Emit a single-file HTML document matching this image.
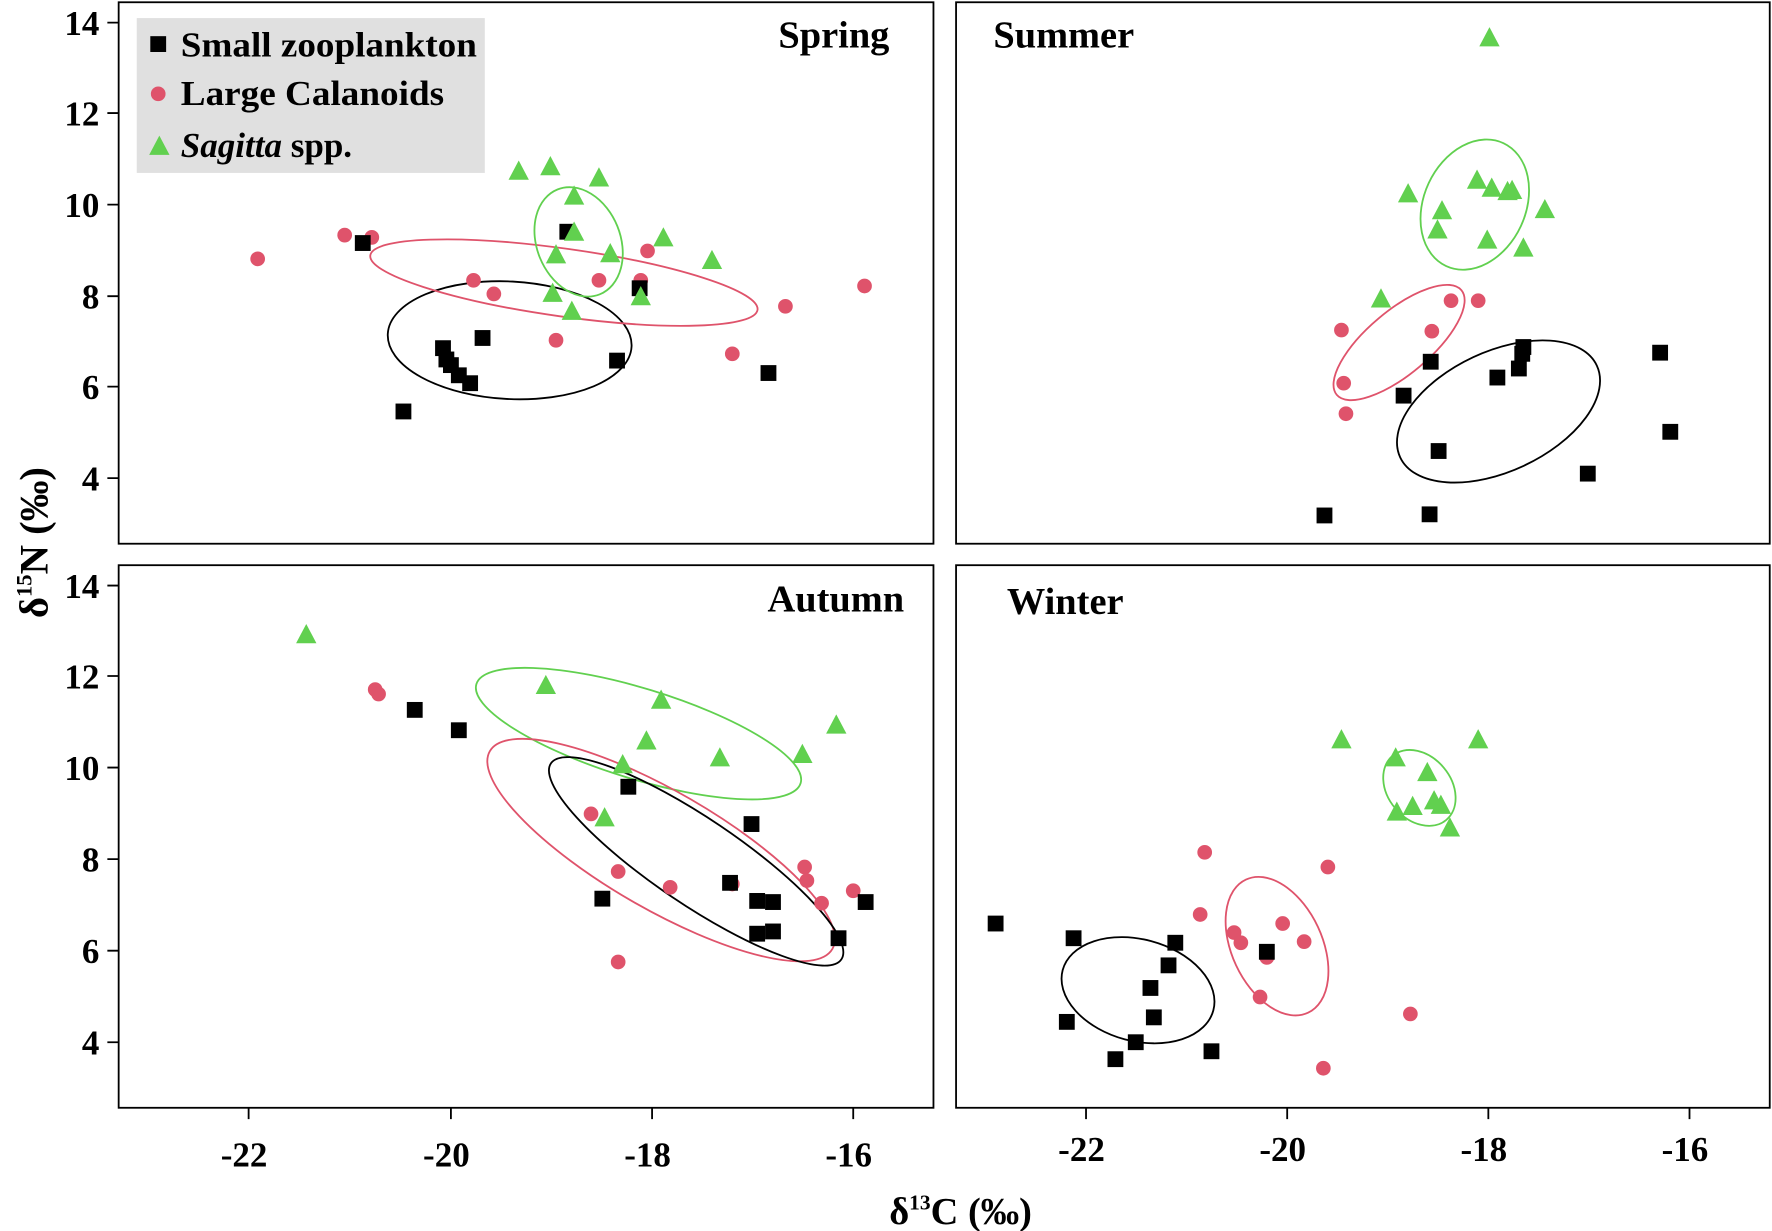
<!DOCTYPE html>
<html><head><meta charset="utf-8"><style>html,body{margin:0;padding:0;background:#fff}svg{display:block}</style></head><body>
<svg width="1772" height="1231" viewBox="0 0 1568 1089" preserveAspectRatio="none" xmlns="http://www.w3.org/2000/svg" font-family="Liberation Serif, serif" font-weight="bold">
<defs>
<rect id="s" x="-7" y="-7" width="14" height="14" fill="#000"/>
<circle id="c" r="6.5" fill="#DF536B"/>
<polygon id="t" points="0,-10 9,7 -9,7" fill="#61D04F"/>
</defs>
<g fill="none" stroke="#000" stroke-width="1.6">
<rect x="105" y="2" width="721" height="479"/>
<rect x="846" y="2" width="720" height="479"/>
<rect x="105" y="500" width="721" height="480"/>
<rect x="846" y="500" width="720" height="480"/>
<path d="M95,20H105M95,100H105M95,181H105M95,262H105M95,342H105M95,423H105"/>
<path d="M95,518H105M95,598H105M95,679H105M95,760H105M95,841H105M95,922H105"/>
<path d="M220,980V990M399,980V990M577,980V990M755,980V990"/>
<path d="M961,980V990M1139,980V990M1317,980V990M1495,980V990"/>
</g>
<g font-size="31" text-anchor="end">
<text x="88" y="31">14</text><text x="88" y="111">12</text><text x="88" y="192">10</text><text x="88" y="273">8</text><text x="88" y="353">6</text><text x="88" y="434">4</text>
<text x="88" y="529">14</text><text x="88" y="609">12</text><text x="88" y="690">10</text><text x="88" y="771">8</text><text x="88" y="852">6</text><text x="88" y="933">4</text>
</g>
<g font-size="31" text-anchor="middle">
<text x="216" y="1032">-22</text><text x="395" y="1032">-20</text><text x="573" y="1032">-18</text><text x="751" y="1032">-16</text>
<text x="957" y="1027">-22</text><text x="1135" y="1027">-20</text><text x="1313" y="1027">-18</text><text x="1491" y="1027">-16</text>
<text x="850" y="1083" font-size="34">δ<tspan font-size="19" dy="-13">13</tspan><tspan dy="13">C (‰)</tspan></text>
</g>
<text transform="translate(42,480) rotate(-90)" font-size="36" text-anchor="middle">δ<tspan font-size="20" dy="-14">15</tspan><tspan dy="14">N (‰)</tspan></text>
<g font-size="34">
<text x="787" y="42" text-anchor="end">Spring</text>
<text x="879" y="42">Summer</text>
<text x="800" y="541" text-anchor="end">Autumn</text>
<text x="891" y="543">Winter</text>
</g>
<rect x="121" y="16" width="308" height="137" fill="#e0e0e0"/>
<use href="#s" x="140" y="39"/><use href="#c" x="140" y="83"/><use href="#t" x="141" y="130"/>
<g font-size="31"><text x="160" y="50" textLength="262" lengthAdjust="spacingAndGlyphs">Small zooplankton</text><text x="160" y="93" textLength="233" lengthAdjust="spacingAndGlyphs">Large Calanoids</text><text x="160" y="139"><tspan font-style="italic">Sagitta</tspan> spp.</text></g>
<g fill="none" stroke-width="1.6">
<ellipse cx="451" cy="301" rx="108" ry="52" stroke="#000" transform="rotate(3 451 301)"/>
<ellipse cx="499" cy="250" rx="173" ry="30" stroke="#DF536B" transform="rotate(8 499 250)"/>
<ellipse cx="512" cy="214" rx="37" ry="50" stroke="#61D04F" transform="rotate(-22 512 214)"/>
<ellipse cx="1326" cy="364" rx="96" ry="53" stroke="#000" transform="rotate(-25 1326 364)"/>
<ellipse cx="1238" cy="303" rx="72" ry="28" stroke="#DF536B" transform="rotate(-40 1238 303)"/>
<ellipse cx="1305" cy="181" rx="45" ry="60" stroke="#61D04F" transform="rotate(25 1305 181)"/>
<ellipse cx="565" cy="649" rx="150" ry="40" stroke="#61D04F" transform="rotate(17 565 649)"/>
<ellipse cx="585" cy="752" rx="175" ry="52" stroke="#DF536B" transform="rotate(30 585 752)"/>
<ellipse cx="616" cy="762" rx="155" ry="38" stroke="#000" transform="rotate(34 616 762)"/>
<ellipse cx="1007" cy="876" rx="69" ry="45" stroke="#000" transform="rotate(15 1007 876)"/>
<ellipse cx="1130" cy="837" rx="40" ry="65" stroke="#DF536B" transform="rotate(-25 1130 837)"/>
<ellipse cx="1256" cy="697" rx="37" ry="28" stroke="#61D04F" transform="rotate(50 1256 697)"/>
</g>
<g>
<use href="#c" x="228" y="229"/><use href="#c" x="305" y="208"/><use href="#c" x="329" y="210"/><use href="#c" x="419" y="248"/><use href="#c" x="437" y="260"/><use href="#c" x="492" y="301"/><use href="#c" x="530" y="248"/><use href="#c" x="567" y="248"/><use href="#c" x="573" y="222"/><use href="#c" x="648" y="313"/><use href="#c" x="695" y="271"/><use href="#c" x="765" y="253"/>
<use href="#s" x="321" y="215"/><use href="#s" x="357" y="364"/><use href="#s" x="392" y="308"/><use href="#s" x="395" y="318"/><use href="#s" x="399" y="323"/><use href="#s" x="406" y="332"/><use href="#s" x="416" y="339"/><use href="#s" x="427" y="299"/><use href="#s" x="502" y="205"/><use href="#s" x="546" y="319"/><use href="#s" x="566" y="255"/><use href="#s" x="680" y="330"/>
<use href="#t" x="459" y="152"/><use href="#t" x="487" y="148"/><use href="#t" x="530" y="158"/><use href="#t" x="508" y="174"/><use href="#t" x="508" y="206"/><use href="#t" x="492" y="226"/><use href="#t" x="540" y="225"/><use href="#t" x="587" y="211"/><use href="#t" x="630" y="231"/><use href="#t" x="489" y="260"/><use href="#t" x="506" y="276"/><use href="#t" x="567" y="263"/>

<use href="#c" x="1187" y="292"/><use href="#c" x="1189" y="339"/><use href="#c" x="1191" y="366"/><use href="#c" x="1267" y="293"/><use href="#c" x="1284" y="266"/><use href="#c" x="1308" y="266"/>
<use href="#s" x="1172" y="456"/><use href="#s" x="1265" y="455"/><use href="#s" x="1273" y="399"/><use href="#s" x="1242" y="350"/><use href="#s" x="1266" y="320"/><use href="#s" x="1325" y="334"/><use href="#s" x="1344" y="326"/><use href="#s" x="1347" y="313"/><use href="#s" x="1348" y="307"/><use href="#s" x="1405" y="419"/><use href="#s" x="1469" y="312"/><use href="#s" x="1478" y="382"/>
<use href="#t" x="1318" y="34"/><use href="#t" x="1222" y="265"/><use href="#t" x="1246" y="172"/><use href="#t" x="1272" y="204"/><use href="#t" x="1276" y="187"/><use href="#t" x="1307" y="160"/><use href="#t" x="1320" y="167"/><use href="#t" x="1316" y="213"/><use href="#t" x="1334" y="170"/><use href="#t" x="1338" y="169"/><use href="#t" x="1348" y="220"/><use href="#t" x="1367" y="186"/>

<use href="#c" x="332" y="610"/><use href="#c" x="335" y="614"/><use href="#c" x="523" y="720"/><use href="#c" x="547" y="771"/><use href="#c" x="593" y="785"/><use href="#c" x="648" y="782"/><use href="#c" x="712" y="767"/><use href="#c" x="714" y="779"/><use href="#c" x="727" y="799"/><use href="#c" x="755" y="788"/><use href="#c" x="547" y="851"/>
<use href="#s" x="367" y="628"/><use href="#s" x="406" y="646"/><use href="#s" x="556" y="696"/><use href="#s" x="665" y="729"/><use href="#s" x="646" y="781"/><use href="#s" x="533" y="795"/><use href="#s" x="670" y="797"/><use href="#s" x="684" y="798"/><use href="#s" x="670" y="826"/><use href="#s" x="684" y="824"/><use href="#s" x="742" y="830"/><use href="#s" x="766" y="798"/>
<use href="#t" x="271" y="562"/><use href="#t" x="483" y="607"/><use href="#t" x="585" y="620"/><use href="#t" x="572" y="656"/><use href="#t" x="551" y="677"/><use href="#t" x="637" y="671"/><use href="#t" x="710" y="668"/><use href="#t" x="740" y="642"/><use href="#t" x="535" y="724"/>

<use href="#c" x="1066" y="754"/><use href="#c" x="1175" y="767"/><use href="#c" x="1062" y="809"/><use href="#c" x="1092" y="825"/><use href="#c" x="1098" y="834"/><use href="#c" x="1135" y="817"/><use href="#c" x="1154" y="833"/><use href="#c" x="1121" y="847"/><use href="#c" x="1115" y="882"/><use href="#c" x="1248" y="897"/><use href="#c" x="1171" y="945"/>
<use href="#s" x="881" y="817"/><use href="#s" x="950" y="830"/><use href="#s" x="944" y="904"/><use href="#s" x="1040" y="834"/><use href="#s" x="1034" y="854"/><use href="#s" x="1018" y="874"/><use href="#s" x="1021" y="900"/><use href="#s" x="1005" y="922"/><use href="#s" x="987" y="937"/><use href="#s" x="1072" y="930"/><use href="#s" x="1121" y="842"/>
<use href="#t" x="1187" y="655"/><use href="#t" x="1308" y="655"/><use href="#t" x="1235" y="671"/><use href="#t" x="1263" y="684"/><use href="#t" x="1269" y="709"/><use href="#t" x="1250" y="714"/><use href="#t" x="1275" y="713"/><use href="#t" x="1236" y="719"/><use href="#t" x="1283" y="733"/>
</g>
</svg>
</body></html>
